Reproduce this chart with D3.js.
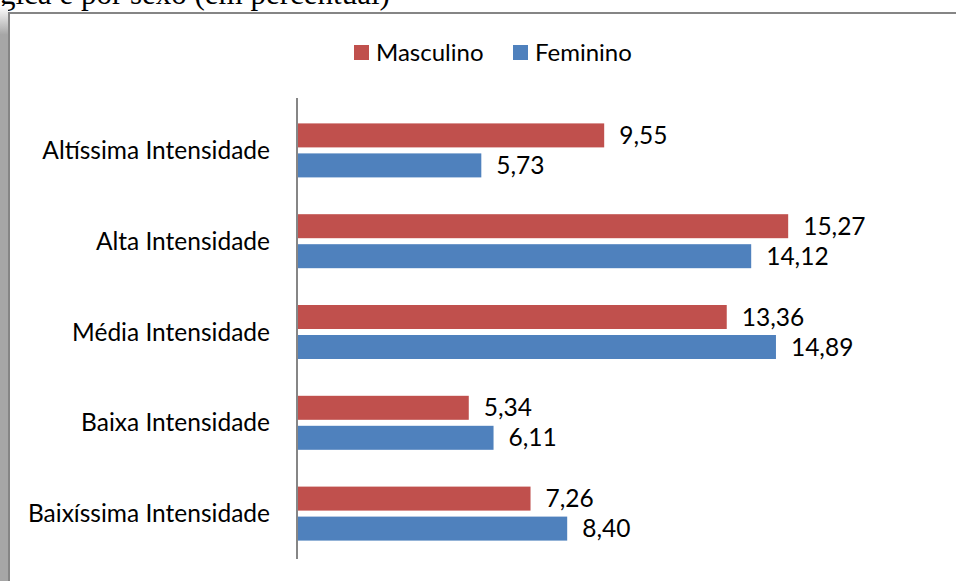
<!DOCTYPE html>
<meta charset="UTF-8">
<style>
  body { margin: 0; background: #fff; }
  text { font-family: Lato, "Open Sans", sans-serif; fill: #000; }
  .caption { font-family: "Liberation Serif", serif; }
</style>
<body>
<svg id="chart" width="956" height="581"></svg>
<script src="https://cdn.jsdelivr.net/npm/d3@7"></script>
<script>

// categories, top to bottom
var categories = ["Altíssima Intensidade", "Alta Intensidade", "Média Intensidade",
                  "Baixa Intensidade", "Baixíssima Intensidade"];
var series = ["Masculino", "Feminino"];
var masculino = [9.55, 15.27, 13.36, 5.34, 7.26];
var feminino = [5.73, 14.12, 14.89, 6.11, 8.40];
var colors = ["#C0504D", "#4F81BD"];

var svg = d3.select("#chart");

// caption of the figure, cut at the top of the picture
svg.append("text")
    .attr("class", "caption")
    .attr("x", 0)
    .attr("y", 4)
    .style("font-size", "31px")
    .text("gica e por sexo (em percentual)");

// shadow on the left and frame
var grad = svg.append("defs").append("linearGradient")
    .attr("id", "shade").attr("x1", 0).attr("y1", 0).attr("x2", 0).attr("y2", 1);
grad.append("stop").attr("offset", 0).attr("stop-color", "#fff");
grad.append("stop").attr("offset", 0.05).attr("stop-color", "#a6a6a6");
grad.append("stop").attr("offset", 1).attr("stop-color", "#a6a6a6");
svg.append("rect")
    .attr("x", 0).attr("y", 6).attr("width", 8).attr("height", 575)
    .attr("fill", "url(#shade)");
svg.append("path")
    .attr("d", "M9,581V13H956")
    .attr("fill", "none")
    .attr("stroke", "#858585")
    .attr("stroke-width", 2);

// scales
var x = d3.scaleLinear().domain([0, 18]).range([297, 876]);
var y = d3.scaleBand().domain(categories).range([105, 559]);
var ys = d3.scaleBand().domain(series)
    .range([y.bandwidth() / 2 - 27, y.bandwidth() / 2 + 27])
    .paddingInner(0.2);

var rows = categories.map(function(c, i) {
  return { cat: c, values: [masculino[i], feminino[i]] };
});

var group = svg.selectAll("g.cat")
  .data(rows)
  .enter().append("g")
    .attr("class", "cat")
    .attr("transform", function(d) { return "translate(0," + y(d.cat) + ")"; });

group.selectAll("rect")
  .data(function(d) {
    return d.values.map(function(v, j) { return { s: series[j], v: v, j: j }; });
  })
  .enter().append("rect")
    .attr("x", x(0))
    .attr("y", function(d) { return ys(d.s); })
    .attr("width", function(d) { return x(d.v) - x(0); })
    .attr("height", ys.bandwidth())
    .attr("fill", function(d) { return colors[d.j]; });

var fmt = d3.format(".2f");
group.selectAll("text.val")
  .data(function(d) {
    return d.values.map(function(v, j) { return { s: series[j], v: v }; });
  })
  .enter().append("text")
    .attr("class", "val")
    .attr("x", function(d) { return x(d.v) + 15; })
    .attr("y", function(d) { return ys(d.s) + ys.bandwidth() / 2; })
    .attr("dy", "0.35em")
    .style("font-size", "24.5px")
    .text(function(d) { return fmt(d.v).replace(".", ","); });

// category labels
svg.selectAll("text.cat")
  .data(categories)
  .enter().append("text")
    .attr("class", "cat")
    .attr("x", 270)
    .attr("y", function(d) { return y(d) + y.bandwidth() / 2; })
    .attr("dy", "0.35em")
    .attr("text-anchor", "end")
    .style("font-size", "24.5px")
    .text(function(d) { return d; });

// vertical axis line
svg.append("line")
    .attr("x1", x(0)).attr("x2", x(0))
    .attr("y1", 98).attr("y2", 559)
    .attr("stroke", "#868686")
    .attr("stroke-width", 2);

// legend
var legend = svg.append("g").attr("transform", "translate(354,45)");
var lx = [0, 159];
series.forEach(function(s, i) {
  var g = legend.append("g").attr("transform", "translate(" + lx[i] + ",0)");
  g.append("rect").attr("width", 15).attr("height", 15).attr("fill", colors[i]);
  g.append("text").attr("x", 22).attr("y", 7.5).attr("dy", "0.35em")
      .style("font-size", "24px").text(s);
});

</script>
</body>
